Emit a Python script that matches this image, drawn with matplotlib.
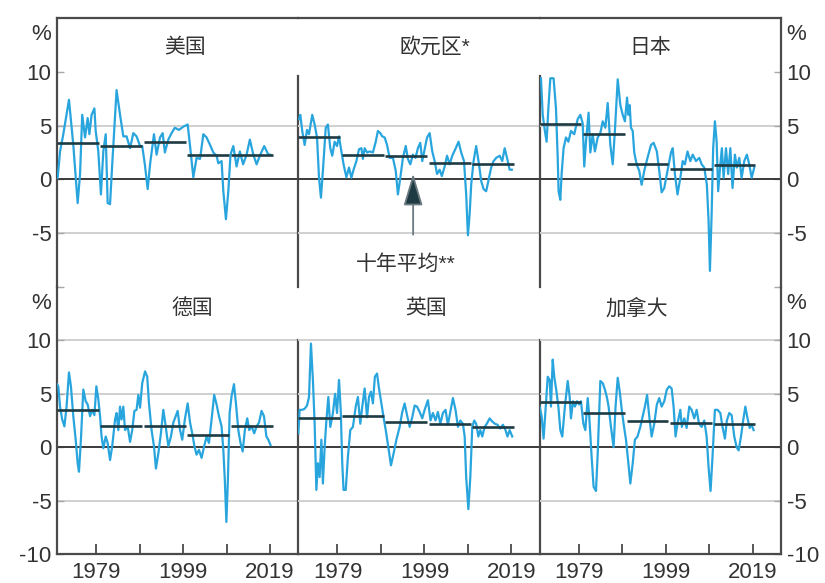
import matplotlib.pyplot as plt

plt.rcParams['font.family'] = ['Liberation Sans', 'Noto Sans CJK SC']

# year-ended growth, %, with ten-year averages
us_years = [1970.15, 1970.7, 1971.45, 1972.75, 1973.75, 1974.75, 1975.3, 1975.8, 1976.45, 1977.05,
            1977.45, 1977.95, 1978.6, 1978.9, 1979.5, 1980.1, 1980.65, 1981.2, 1981.65, 1982.2,
            1982.7, 1983.7, 1984.5, 1985.25, 1986.0, 1986.8, 1987.55, 1988.3, 1989.1, 1989.6,
            1990.2, 1990.85, 1991.4, 1992.3, 1992.9, 1993.7, 1994.3, 1994.8, 1995.6, 1996.35,
            1997.1, 1998.05, 1999.05, 2000.05, 2000.6, 2001.35, 2002.1, 2002.9, 2003.65, 2004.4,
            2005.2, 2005.95, 2006.7, 2007.1, 2007.85, 2008.25, 2008.85, 2009.4, 2009.9, 2010.55,
            2011.3, 2012.05, 2012.8, 2013.6, 2014.35, 2015.15, 2015.9, 2016.65, 2017.65, 2018.6,
            2019.0]
us_vals = [0.15, 2.6, 4.2, 7.4, 3.2, -2.2, 0.5, 6.0, 3.9, 5.7,
           4.2, 6.0, 6.6, 4.5, 2.6, -1.4, 2.6, 4.2, -2.2, -2.3,
           1.4, 8.3, 6.0, 4.0, 4.0, 2.9, 4.3, 4.0, 3.1, 3.1,
           1.4, -0.9, 1.4, 4.2, 2.3, 3.9, 4.3, 2.5, 3.7, 4.3,
           4.8, 4.6, 4.9, 5.1, 3.1, 0.2, 2.0, 1.9, 4.2, 3.9,
           3.2, 2.5, 2.2, 1.5, 1.7, -1.1, -3.7, -1.1, 2.3, 3.1,
           1.2, 2.6, 1.4, 2.3, 3.7, 2.3, 1.4, 2.2, 3.1, 2.3,
           2.3]
us_avg = [3.35, 3.15, 3.45, 2.25, 2.25]

ea_years = [1970.15, 1970.45, 1970.9, 1971.45, 1972.0, 1972.45, 1973.2, 1973.75, 1974.3, 1974.75,
            1975.2, 1975.65, 1976.3, 1976.8, 1977.35, 1977.8, 1978.35, 1978.9, 1979.35, 1979.9,
            1980.4, 1981.05, 1981.65, 1982.2, 1982.7, 1983.35, 1983.95, 1984.5, 1984.85, 1985.25,
            1985.8, 1986.4, 1987.15, 1987.8, 1988.3, 1988.85, 1989.3, 1989.85, 1990.4, 1991.0,
            1991.75, 1992.4, 1992.9, 1993.45, 1994.05, 1994.7, 1995.2, 1995.75, 1996.35, 1996.95,
            1997.5, 1998.05, 1998.5, 1999.05, 1999.6, 2000.2, 2000.8, 2001.35, 2001.9, 2002.5,
            2003.0, 2003.65, 2004.2, 2004.8, 2005.4, 2006.2, 2006.85, 2007.45, 2008.1, 2008.6,
            2009.0, 2009.4, 2009.75, 2010.3, 2010.9, 2011.55, 2012.05, 2012.6, 2013.2, 2013.85,
            2014.35, 2014.9, 2015.5, 2016.3, 2016.9, 2017.45, 2018.05, 2018.6, 2019.1]
ea_vals = [5.6, 6.0, 4.5, 3.2, 4.6, 4.2, 6.0, 5.1, 3.9, 0.2,
           -1.7, 0.8, 4.8, 5.1, 2.9, 2.2, 3.5, 3.1, 4.0, 2.6,
           1.4, 0.2, 1.1, 0.15, 0.9, 1.7, 2.8, 2.9, 1.9, 2.9,
           2.5, 2.6, 2.5, 3.5, 4.5, 4.3, 4.0, 3.9, 3.2, 2.0,
           2.0, 0.8, -1.4, 0.15, 2.0, 3.1, 1.9, 1.4, 2.3, 2.0,
           2.9, 3.4, 1.7, 2.8, 3.9, 4.3, 2.6, 1.7, 0.5, 0.9,
           0.3, 1.2, 2.2, 1.4, 2.2, 2.9, 3.5, 2.5, 1.7, -1.4,
           -5.2, -3.2, -0.5, 1.7, 3.1, 1.4, -0.15, -0.9, -1.1, 0.15,
           1.1, 1.7, 2.0, 2.2, 1.7, 2.9, 1.9, 0.9, 0.9]
ea_avg = [3.9, 2.3, 2.2, 1.55, 1.4]

jp_years = [1970.3, 1970.7, 1971.2, 1971.6, 1972.0, 1972.45, 1973.2, 1973.75, 1974.15, 1974.35,
            1974.75, 1975.05, 1975.5, 1976.05, 1976.6, 1977.2, 1977.95, 1978.75, 1979.35, 1979.9,
            1980.25, 1980.65, 1981.25, 1981.65, 1982.2, 1982.7, 1983.35, 1983.95, 1984.5, 1985.1,
            1985.65, 1986.25, 1986.8, 1987.3, 1987.95, 1988.55, 1989.1, 1989.6, 1990.1, 1990.4,
            1990.7, 1991.0, 1991.4, 1991.75, 1992.3, 1992.9, 1993.45, 1994.05, 1994.8, 1995.6,
            1996.2, 1996.95, 1997.5, 1998.05, 1998.65, 1999.4, 2000.2, 2000.6, 2001.1, 2001.7,
            2002.35, 2002.9, 2003.4, 2004.0, 2004.65, 2005.2, 2005.95, 2006.7, 2007.25, 2007.85,
            2008.45, 2008.85, 2009.15, 2009.55, 2009.9, 2010.3, 2010.7, 2011.05, 2011.55, 2011.9,
            2012.3, 2012.85, 2013.35, 2013.85, 2014.35, 2014.9, 2015.35, 2015.9, 2016.45, 2017.05,
            2017.65, 2018.2, 2018.75, 2019.35]
jp_vals = [9.4, 6.0, 4.5, 3.5, 6.6, 9.4, 9.4, 6.6, 2.0, -1.1,
           -1.9, 0.5, 2.9, 3.9, 3.5, 4.5, 4.2, 5.6, 6.0, 5.2,
           1.2, 3.5, 6.2, 2.5, 4.2, 2.6, 3.9, 4.3, 5.4, 4.8,
           7.1, 3.2, 1.4, 4.5, 9.3, 6.9, 6.0, 5.4, 7.6, 6.0,
           6.9, 4.8, 4.5, 2.5, 1.4, 0.8, -0.5, 0.8, 2.0, 3.2,
           3.4, 2.6, 0.8, -1.2, -0.8, 0.8, 2.5, 2.9, 0.5, -1.4,
           0.15, 1.7, 1.4, 2.6, 1.7, 2.3, 1.7, 2.0, 1.4, 1.1,
           -0.5, -3.9, -8.5, -3.2, 2.9, 5.4, 3.5, -1.1, 1.4, 2.9,
           0.15, 2.9, 0.5, 2.9, -0.8, 2.3, 1.1, 2.0, 0.15, 1.7,
           2.3, 1.4, 0.15, 1.1]
jp_avg = [5.15, 4.25, 1.45, 1.0, 1.3]

de_years = [1970.0, 1970.3, 1970.7, 1971.2, 1971.7, 1972.2, 1972.75, 1973.2, 1973.75, 1974.3,
            1974.75, 1975.05, 1975.5, 1976.05, 1976.6, 1977.05, 1977.6, 1978.1, 1978.6, 1979.05,
            1979.5, 1979.9, 1980.25, 1980.65, 1981.2, 1981.65, 1982.2, 1982.7, 1983.35, 1983.7,
            1984.1, 1984.5, 1984.85, 1985.25, 1985.65, 1986.25, 1986.8, 1987.3, 1987.8, 1988.3,
            1988.7, 1989.1, 1989.6, 1990.25, 1990.75, 1991.15, 1991.75, 1992.3, 1992.75, 1993.3,
            1993.9, 1994.45, 1995.0, 1995.6, 1996.2, 1996.75, 1997.3, 1997.75, 1998.3, 1998.8,
            1999.4, 2000.05, 2000.6, 2001.1, 2001.6, 2002.1, 2002.65, 2003.25, 2003.85, 2004.4,
            2004.95, 2005.55, 2006.15, 2006.7, 2007.25, 2007.85, 2008.25, 2008.6, 2008.95, 2009.3,
            2009.7, 2010.15, 2010.7, 2011.15, 2011.7, 2012.2, 2012.7, 2013.2, 2013.75, 2014.2,
            2014.75, 2015.35, 2015.9, 2016.45, 2017.05, 2017.6, 2018.15, 2018.6, 2019.1]
de_vals = [5.9, 5.7, 3.8, 2.6, 1.95, 3.8, 7.0, 5.7, 2.9, 0.7,
           -1.5, -2.3, 0.7, 5.4, 4.3, 4.0, 2.9, 3.5, 3.0, 5.7,
           4.5, 2.9, 1.0, -0.1, 1.0, 0.4, -1.2, 0.1, 2.6, 3.2,
           1.6, 3.8, 2.6, 3.8, 1.6, 1.95, 0.5, 1.6, 3.4, 3.5,
           4.9, 3.7, 6.0, 7.1, 6.6, 4.1, 1.6, 0.1, -2.0, -0.6,
           1.3, 3.5, 1.95, 0.1, 1.0, 2.3, 2.9, 3.4, 1.6, 0.7,
           2.6, 4.1, 2.3, 1.3, 0.1, -0.7, -0.25, -1.0, 0.1, 1.0,
           0.4, 2.6, 4.9, 4.0, 2.9, 1.95, -0.25, -3.1, -7.0, -3.1,
           3.2, 4.8, 5.9, 4.1, 1.6, 0.4, -0.4, 1.6, 2.7, 1.6,
           1.95, 1.3, 1.95, 2.3, 3.4, 2.9, 1.0, 0.7, 0.2]
de_avg = [3.5, 1.95, 1.95, 1.1, 1.95]

uk_years = [1970.0, 1970.3, 1970.9, 1971.45, 1972.0, 1972.45, 1972.9, 1973.35, 1973.75, 1974.15,
            1974.5, 1974.9, 1975.3, 1975.65, 1976.05, 1976.45, 1976.9, 1977.35, 1977.95, 1978.45,
            1978.9, 1979.35, 1979.75, 1980.1, 1980.4, 1980.9, 1981.4, 1981.95, 1982.55, 1983.2,
            1983.7, 1984.25, 1984.7, 1985.25, 1985.8, 1986.25, 1986.7, 1987.15, 1987.6, 1988.1,
            1988.55, 1989.1, 1989.6, 1990.1, 1990.7, 1991.3, 1991.9, 1992.55, 1993.3, 1993.9,
            1994.45, 1995.0, 1995.6, 1996.2, 1996.75, 1997.3, 1997.9, 1998.5, 1999.05, 1999.8,
            2000.4, 2000.95, 2001.55, 2002.1, 2002.65, 2003.25, 2003.85, 2004.4, 2004.95, 2005.55,
            2006.15, 2006.7, 2007.25, 2007.85, 2008.25, 2008.6, 2009.1, 2009.55, 2010.0, 2010.45,
            2010.9, 2011.4, 2011.85, 2012.3, 2012.85, 2013.35, 2014.0, 2014.6, 2015.2, 2015.8,
            2016.45, 2017.05, 2017.65, 2018.1, 2018.6, 2019.2]
uk_vals = [1.3, 3.5, 3.5, 3.6, 3.9, 4.7, 9.7, 6.3, 2.2, -4.0,
           -1.5, -2.8, 0.7, -3.4, 0.0, 2.5, 4.7, 1.9, 3.2, 5.0,
           3.2, 6.3, 3.5, -1.5, -4.0, -4.0, -0.9, 1.6, 1.9, 3.8,
           4.7, 2.2, 3.8, 5.5, 2.8, 4.7, 5.2, 4.1, 6.6, 6.9,
           5.5, 4.1, 2.8, 1.6, 0.0, -1.7, -0.6, 0.7, 1.9, 3.3,
           4.1, 3.0, 1.9, 2.8, 3.9, 3.8, 3.3, 2.7, 3.5, 4.4,
           2.5, 3.2, 2.5, 3.3, 2.2, 3.2, 3.5, 2.1, 3.3, 4.6,
           3.5, 1.9, 2.5, 2.2, 1.0, -2.8, -5.8, -2.8, 1.9, 2.5,
           2.2, 1.0, 1.6, 1.0, 1.9, 2.2, 2.7, 2.4, 2.2, 2.1,
           1.75, 2.1, 1.6, 1.0, 1.6, 1.0]
uk_avg = [2.7, 2.9, 2.4, 2.2, 1.9]

ca_years = [1970.0, 1970.45, 1970.9, 1971.4, 1971.85, 1972.3, 1972.6, 1973.0, 1973.35, 1973.8,
            1974.3, 1974.75, 1975.2, 1975.8, 1976.45, 1976.9, 1977.2, 1977.65, 1978.1, 1978.6,
            1979.05, 1979.5, 1980.05, 1980.5, 1981.05, 1981.4, 1981.95, 1982.4, 1982.95, 1983.35,
            1983.95, 1984.5, 1985.0, 1985.5, 1985.85, 1986.4, 1987.0, 1987.45, 1987.95, 1988.45,
            1988.85, 1989.3, 1989.85, 1990.4, 1990.85, 1991.4, 1991.9, 1992.5, 1993.15, 1993.7,
            1994.2, 1994.7, 1995.2, 1995.75, 1996.35, 1996.95, 1997.5, 1998.05, 1998.65, 1999.25,
            1999.8, 2000.35, 2000.8, 2001.25, 2001.7, 2002.35, 2002.7, 2003.25, 2003.8, 2004.4,
            2004.95, 2005.55, 2006.1, 2006.65, 2007.25, 2007.85, 2008.4, 2008.85, 2009.3, 2009.75,
            2010.3, 2010.9, 2011.55, 2012.05, 2012.6, 2013.05, 2013.6, 2014.15, 2014.75, 2015.3,
            2015.75, 2016.3, 2016.8, 2017.3, 2017.8, 2018.3, 2018.75, 2019.2]
ca_vals = [3.8, 2.9, 0.8, 3.8, 6.6, 6.3, 3.8, 8.2, 6.6, 5.4,
           3.8, 1.6, 1.0, 3.8, 6.2, 4.7, 2.7, 4.3, 3.8, 4.3,
           4.0, 4.3, 2.2, 1.6, 4.6, 2.9, -0.9, -3.7, -4.1, -0.6,
           6.2, 6.0, 5.4, 4.6, 3.8, 1.9, 0.0, 3.8, 6.5, 5.1,
           3.6, 2.2, 0.7, -1.5, -3.4, -1.5, 0.7, 1.0, 1.9, 2.9,
           3.8, 4.9, 2.9, 1.0, 2.2, 4.0, 4.6, 3.8, 4.3, 5.4,
           5.7, 5.5, 3.8, 1.0, 2.2, 3.5, 1.9, 2.7, 1.8, 3.8,
           3.5, 2.7, 3.5, 2.2, 1.9, 2.5, 1.0, -1.9, -4.1, -0.9,
           3.5, 3.5, 3.2, 1.9, 0.8, 2.5, 3.2, 3.0, 1.0, 0.0,
           -0.3, 1.0, 2.5, 3.8, 2.7, 1.8, 2.1, 1.6]
ca_avg = [4.2, 3.2, 2.5, 2.3, 2.2]

decades = [1970, 1980, 1990, 2000, 2010]

# name, years, values, decade averages, title x (axes fraction)
panels = [
    ('美国', us_years, us_vals, us_avg, 0.53),
    ('欧元区*', ea_years, ea_vals, ea_avg, 0.567),
    ('日本', jp_years, jp_vals, jp_avg, 0.457),
    ('德国', de_years, de_vals, de_avg, 0.56),
    ('英国', uk_years, uk_vals, uk_avg, 0.53),
    ('加拿大', ca_years, ca_vals, ca_avg, 0.403),
]

line_col = '#29a5de'
avg_col = '#1e3a42'
frame_col = '#4a4a4a'
text_col = '#333333'

W, H = 825, 583
fig = plt.figure(figsize=(W / 100, H / 100), dpi=100)

x0, x1 = 57, 781
col_w = (x1 - x0) / 3 / W
row_bottom = [(H - 287) / H, (H - 554) / H]
row_height = [269 / H, 267 / H]
title_y = [12.3, 13.0]

for i, (name, yrs, vals, avg, tx) in enumerate(panels):
    row, col = divmod(i, 3)
    ax = fig.add_axes([x0 / W + col * col_w, row_bottom[row], col_w, row_height[row]])
    ax.set_xlim(1970, 2025.5)
    ax.set_ylim(-10, 15)
    ax.patch.set_alpha(0)

    for s in ax.spines.values():
        s.set_visible(False)
        s.set_color(frame_col)
        s.set_linewidth(1.6)
    if row == 0:
        ax.spines['top'].set_visible(True)
    else:
        ax.spines['bottom'].set_visible(True)
    if col == 0:
        ax.spines['left'].set_visible(True)
    ax.spines['right'].set_visible(True)
    if col < 2:
        ax.spines['right'].set_bounds(-10, 9.6 if row == 0 else 10)

    grid = [-5, 5] if row == 0 else [-5, 5, 10]
    for g in grid:
        ax.axhline(g, color='#d0d0d0', lw=1.4, zorder=1)
    ax.axhline(0, color='#3a3a3a', lw=1.4, zorder=2)

    ax.plot(yrs, vals, color=line_col, lw=1.6, zorder=3)
    for d, a in zip(decades, avg):
        ax.hlines(a, d, d + 9.6, color=avg_col, lw=1.9, zorder=4)

    ax.text(tx, title_y[row], name, transform=ax.get_yaxis_transform(),
            ha='center', va='center', fontsize=15, color=text_col)

    # y axis labels on the outer columns only
    yt = [-10, -5, 0, 5, 10, 13.7]
    ylab = [('%' if v == 13.7 else f'{v:g}') for v in yt]
    if row == 0:
        ylab[0] = ''
    ax.tick_params(axis='y', direction='in', length=5, width=1, color='#a8a8a8',
                   labelsize=16, labelcolor=text_col, pad=4)
    if col == 1:
        ax.set_yticks([])
    else:
        ax.set_yticks(yt)
        ax.set_yticklabels(ylab)
        if col == 2:
            ax.yaxis.tick_right()
        else:
            ax.tick_params(axis='y', right=False)
        ax.yaxis.get_major_ticks()[-1].tick1line.set_visible(False)
        ax.yaxis.get_major_ticks()[-1].tick2line.set_visible(False)

    if row == 1:
        ax.set_xticks([1979, 1989, 1999, 2009, 2019])
        ax.set_xticklabels(['1979', '', '1999', '', '2019'])
        ax.tick_params(axis='x', direction='in', length=7, width=1.3, color=frame_col,
                       labelsize=16, labelcolor=text_col, pad=6)
    else:
        ax.set_xticks([])

    if i == 1:
        ax.annotate('', xy=(1996.4, 0.8), xytext=(1996.4, -5.4),
                    arrowprops=dict(arrowstyle='-|>,head_length=1.0,head_width=0.3',
                                    mutation_scale=20, lw=1.3,
                                    fc=avg_col, ec='#6a7a80'), zorder=5)
        ax.text(1994.6, -7.9, '十年平均**', ha='center', va='center',
                fontsize=15, color=text_col)

fig.savefig('out.png', dpi=100)
